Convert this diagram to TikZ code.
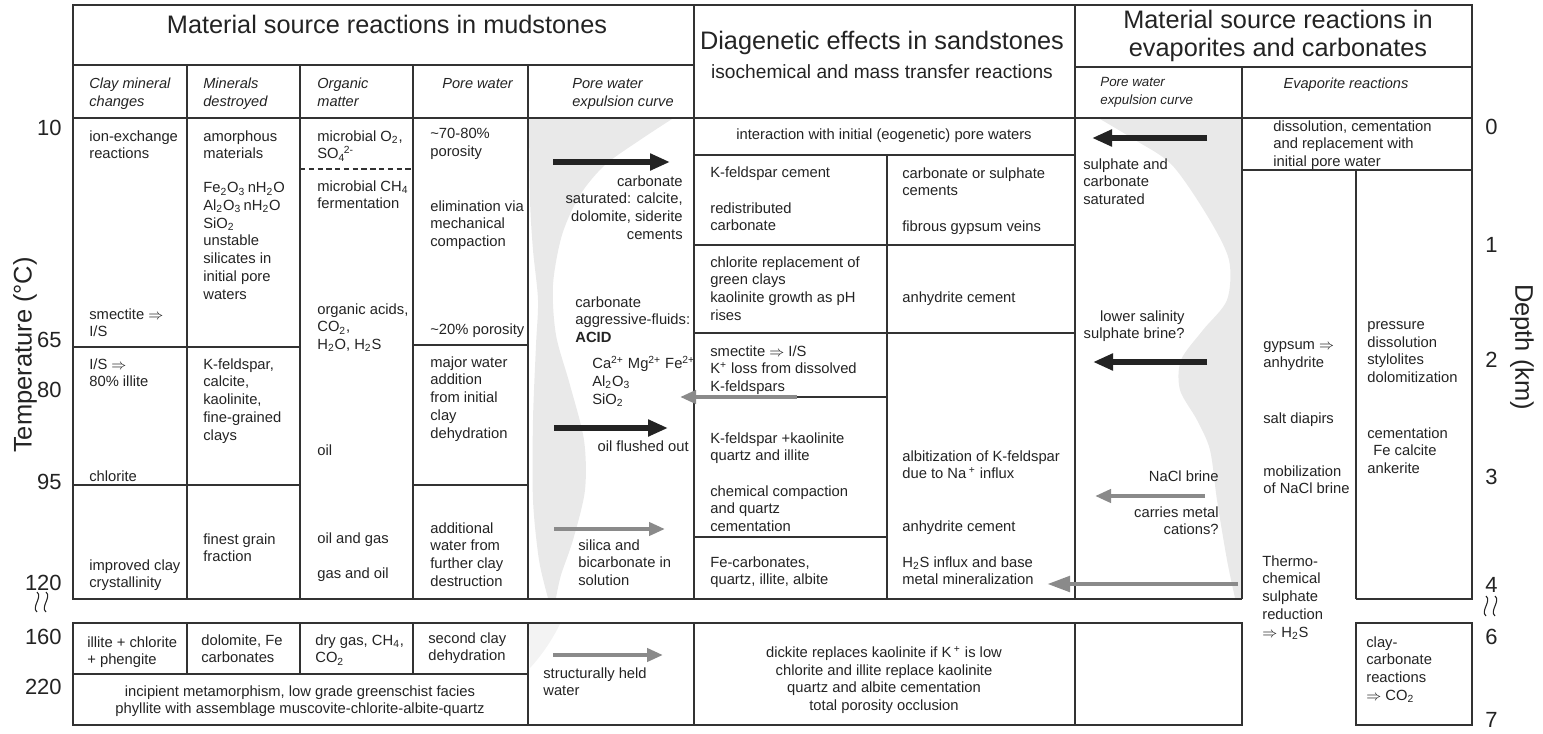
\documentclass[tikz,border=0pt]{standalone}
\usepackage{fontspec}
\setmainfont{Liberation Sans}
\usepackage{xcolor}
\usepackage{tikz}
\usetikzlibrary{arrows.meta}
\definecolor{ink}{RGB}{35,35,35}
\definecolor{rule}{RGB}{50,50,50}
\definecolor{shade}{RGB}{233,233,233}
\definecolor{paleshade}{RGB}{243,243,243}
\definecolor{greyarrow}{RGB}{138,138,138}
\newcommand{\bodyfont}{\fontsize{8.4}{10.1}\selectfont}
\newcommand{\headfont}{\fontsize{8.3}{10.1}\selectfont\itshape}
\newcommand{\titlefont}{\fontsize{14.4}{16}\selectfont}
\newcommand{\axisfont}{\fontsize{12.5}{14}\selectfont}
\newcommand{\chsub}[1]{\textsubscript{#1}}
\newcommand{\chsup}[1]{\textsuperscript{#1}}
\newcommand{\becomes}{\ensuremath{\Rightarrow}}

\begin{document}
\begin{tikzpicture}[x=0.02cm,y=-0.02cm,
  tabline/.style={draw=rule,line width=0.8pt},
  dashline/.style={draw=rule,line width=0.8pt,dash pattern=on 3pt off 2pt},
  txt/.style={anchor=north west,align=left,inner sep=0pt,font=\bodyfont,text=ink},
  rtxt/.style={txt,anchor=north east,align=right},
  ctxt/.style={txt,anchor=north,align=center},
  colhead/.style={txt,font=\headfont},
  bigtitle/.style={inner sep=0pt,align=center,font=\titlefont,text=ink},
  axisnum/.style={inner sep=0pt,font=\axisfont,text=ink},
  axistitle/.style={inner sep=0pt,font=\fontsize{14.5}{16}\selectfont,text=ink},
  curve/.style={fill=shade},
  darkarrow/.style={draw=ink,line width=3.4pt,-{Triangle[length=4mm,width=3.2mm]}},
  palearrow/.style={draw=greyarrow,line width=2.8pt,-{Triangle[length=3.2mm,width=2.6mm]}}
]
\useasboundingbox (0,0) rectangle (1543,734);

% expulsion curves
\fill[curve] plot[smooth] coordinates {(672,119) (640,140) (605,165) (580,195) (562,235) (553,285) (556,335) (570,385) (584,440) (585,490) (573,540) (561,575) (556,598)}
  -- plot[smooth] coordinates {(548,598) (539,560) (533,500) (533,420) (536,345) (538,300) (533,250) (530,200) (529,119)} -- cycle;
\fill[paleshade] (529,624) -- (560,624) .. controls (552,640) and (542,655) .. (530,668) -- cycle;
\fill[curve] plot[smooth] coordinates {(1100,119) (1135,140) (1172,165) (1208,217) (1229,260) (1227,300) (1203,330) (1181,360) (1180,390) (1197,420) (1210,450) (1217,500) (1227,560) (1235,598)}
  -- (1241,598) -- (1241,119) -- cycle;

% upper table
\draw[tabline] (1242,599) -- (73,599) -- (73,5) -- (1472,5) -- (1472,599) -- (1356,599);
\draw[tabline] (73,65) -- (694,65);
\draw[tabline] (1075,67) -- (1472,67);
\draw[tabline] (73,118) -- (1472,118);
\foreach \xc in {187,300,413,528}
  \draw[tabline] (\xc,65) -- (\xc,599);
\draw[tabline] (694,5) -- (694,599);
\draw[tabline] (1075,5) -- (1075,599);
\draw[tabline] (1242,67) -- (1242,599);
\draw[tabline] (1242,170) -- (1472,170);
\draw[tabline] (1356,170) -- (1356,599);
\draw[tabline] (73,347) -- (300,347);
\draw[tabline] (73,485) -- (300,485);
\draw[dashline] (300,169) -- (413,169);
\draw[tabline] (413,345) -- (528,345);
\draw[tabline] (413,485) -- (528,485);
\draw[tabline] (694,155) -- (1075,155);
\draw[tabline] (887,155) -- (887,599);
\foreach \yc in {245,333}
  \draw[tabline] (694,\yc) -- (1075,\yc);
\foreach \yc in {397,537}
  \draw[tabline] (694,\yc) -- (887,\yc);

% lower table
\draw[tabline] (73,623) rectangle (1242,725);
\draw[tabline] (1356,623) rectangle (1472,725);
\foreach \xc in {187,300,413}
  \draw[tabline] (\xc,623) -- (\xc,674);
\foreach \xc in {528,694,1075}
  \draw[tabline] (\xc,623) -- (\xc,725);
\draw[tabline] (73,674) -- (528,674);

% headings
\node[bigtitle] (mudTitle) at (387,24) {Material source reactions in mudstones};
\node[bigtitle] (sandTitle) at (882,43) {Diagenetic effects in sandstones};
\node[bigtitle,font=\fontsize{10.9}{12}\selectfont] (sandSub) at (882,72) {isochemical and mass transfer reactions};
\node[bigtitle,font=\fontsize{14.4}{16}\selectfont] (evapTitle) at (1278,36) {Material source reactions in\\evaporites and carbonates};
\node[colhead] (hClay) at (89,78) {Clay mineral\\changes};
\node[colhead] (hMin) at (203,78) {Minerals\\destroyed};
\node[colhead] (hOrg) at (317,78) {Organic\\matter};
\node[colhead] (hPore) at (442,78) {Pore water};
\node[colhead] (hCurve) at (572,78) {Pore water\\expulsion curve};
\node[colhead,font=\fontsize{7.6}{10}\selectfont\itshape] (hCurveE) at (1100,77) {Pore water\\expulsion curve};
\node[colhead,anchor=north] (hEvap) at (1346,78) {Evaporite reactions};

% axes
\node[axistitle,rotate=90] (tempAxis) at (25,355) {Temperature (°C)};
\node[axistitle,rotate=-90] (depthAxis) at (1522,347) {Depth (km)};
\foreach \lab/\yc in {10/128,65/340,80/390,95/482,120/583,160/637,220/687}
  \node[axisnum,anchor=east] (t\lab) at (62,\yc) {\lab};
\foreach \lab/\yc in {0/127,1/245,2/360,3/477,4/585,6/637,7/720}
  \node[axisnum,anchor=west] (d\lab) at (1485,\yc) {\lab};
\draw[ink,line width=0.6pt] (37,592) .. controls (43,597) and (31,607) .. (37,612);
\draw[ink,line width=0.6pt] (46,592) .. controls (52,597) and (40,607) .. (46,612);
\draw[ink,line width=0.6pt] (1486,596) .. controls (1492,601) and (1480,611) .. (1486,616);
\draw[ink,line width=0.6pt] (1495,596) .. controls (1501,601) and (1489,611) .. (1495,616);

% clay mineral changes
\node[txt] (clayA) at (89,130) {ion-exchange\\reactions};
\node[txt] (clayB) at (89,308) {smectite \becomes\\I/S};
\node[txt] (clayC) at (89,358) {I/S \becomes\\80\% illite};
\node[txt] (clayD) at (89,470) {chlorite};
\node[txt] (clayE) at (89,559) {improved clay\\crystallinity};

% minerals destroyed
\node[txt] (minA) at (203,130) {amorphous\\materials};
\node[txt] (minB) at (203,182) {Fe\chsub{2}O\chsub{3}\,nH\chsub{2}O\\Al\chsub{2}O\chsub{3}\,nH\chsub{2}O\\SiO\chsub{2}\\unstable\\silicates in\\initial pore\\waters};
\node[txt] (minC) at (203,358) {K-feldspar,\\calcite,\\kaolinite,\\fine-grained\\clays};
\node[txt] (minD) at (203,533) {finest grain\\fraction};

% organic matter
\node[txt] (orgA) at (317,130) {microbial O\chsub{2},\\SO\chsub{4}\kern-0.1em\chsup{2-}};
\node[txt] (orgB) at (317,180) {microbial CH\chsub{4}\\fermentation};
\node[txt] (orgC) at (317,303) {organic acids,\\CO\chsub{2},\\H\chsub{2}O, H\chsub{2}S};
\node[txt] (orgD) at (317,444) {oil};
\node[txt] (orgE) at (317,532) {oil and gas};
\node[txt] (orgF) at (317,567) {gas and oil};

% pore water
\node[txt] (poreA) at (430,128) {\textasciitilde 70-80\%\\porosity};
\node[txt] (poreB) at (430,200) {elimination via\\mechanical\\compaction};
\node[txt] (poreC) at (430,323) {\textasciitilde 20\% porosity};
\node[txt] (poreD) at (430,356) {major water\\addition\\from initial\\clay\\dehydration};
\node[txt] (poreE) at (430,522) {additional\\water from\\further clay\\destruction};

% mudstone expulsion curve
\node[rtxt] (curveA) at (683,175) {carbonate\\saturated: calcite,\\dolomite, siderite\\cements};
\node[txt] (curveB) at (575,296) {carbonate\\aggressive-fluids:\\\textbf{ACID}};
\node[txt] (curveC) at (592,356) {Ca\chsup{2+} Mg\chsup{2+} Fe\chsup{2+}\\Al\chsub{2}O\chsub{3}\\SiO\chsub{2}};
\node[rtxt] (curveD) at (689,440) {oil flushed out};
\node[txt] (curveE) at (578,539) {silica and\\bicarbonate in\\solution};

% sandstones
\node[txt,anchor=center] (sandTop) at (884,136) {interaction with initial (eogenetic) pore waters};
\node[txt] (sandA) at (710,166) {K-feldspar cement};
\node[txt] (sandB) at (710,202) {redistributed\\carbonate};
\node[txt] (sandC) at (710,256) {chlorite replacement of\\green clays\\kaolinite growth as pH\\rises};
\node[txt] (sandD) at (710,345) {smectite \becomes\ I/S\\K\chsup{+} loss from dissolved\\K-feldspars};
\node[txt] (sandE) at (710,432) {K-feldspar +kaolinite\\quartz and illite};
\node[txt] (sandF) at (710,485) {chemical compaction\\and quartz\\cementation};
\node[txt] (sandG) at (710,556) {Fe-carbonates,\\quartz, illite, albite};
\node[txt] (sandH) at (902,167) {carbonate or sulphate\\cements};
\node[txt] (sandI) at (902,220) {fibrous gypsum veins};
\node[txt] (sandJ) at (902,291) {anhydrite cement};
\node[txt] (sandK) at (902,450) {albitization of K-feldspar\\due to Na\,\chsup{+} influx};
\node[txt] (sandL) at (902,520) {anhydrite cement};
\node[txt] (sandM) at (902,556) {H\chsub{2}S influx and base\\metal mineralization};

% evaporites
\node[txt] (evapA) at (1083,158) {sulphate and\\carbonate\\saturated};
\node[rtxt] (evapB) at (1185,310) {lower salinity\\sulphate brine?};
\node[rtxt] (evapC) at (1219,470) {NaCl brine};
\node[rtxt] (evapD) at (1219,506) {carries metal\\cations?};
\node[txt] (evapE) at (1273,120) {dissolution, cementation\\and replacement with\\initial pore water};
\node[txt] (evapF) at (1263,341) {gypsum \becomes\\anhydrite};
\node[txt] (evapG) at (1263,412) {salt diapirs};
\node[txt] (evapH) at (1263,465) {mobilization\\of NaCl brine};
\node[txt] (evapI) at (1262,555) {Thermo-\\chemical\\sulphate\\reduction\\\becomes\ H\chsub{2}S};
\node[txt] (evapJ) at (1367,321) {pressure\\dissolution\\stylolites\\dolomitization};
\node[txt] (evapK) at (1367,427) {cementation\\\hspace{1.2mm}Fe calcite\\ankerite};

% lower rows
\node[txt] (lowA) at (87,636) {illite + chlorite\\+ phengite};
\node[txt] (lowB) at (201,634) {dolomite, Fe\\carbonates};
\node[txt] (lowC) at (315,634) {dry gas, CH\chsub{4},\\CO\chsub{2}};
\node[txt] (lowD) at (428,632) {second clay\\dehydration};
\node[ctxt] (lowE) at (300,685) {incipient metamorphism, low grade greenschist facies\\phyllite with assemblage muscovite-chlorite-albite-quartz};
\node[txt] (lowF) at (543,667) {structurally held\\water};
\node[ctxt] (lowG) at (884,646) {dickite replaces kaolinite if K\,\chsup{+} is low\\chlorite and illite replace kaolinite\\quartz and albite cementation\\total porosity occlusion};
\node[txt] (lowH) at (1366,636) {clay-\\carbonate\\reactions\\\becomes\ CO\chsub{2}};

% fluid arrows
\coordinate (mudOutA) at (553,162);  \coordinate (mudInA) at (670,162);
\coordinate (mudOutB) at (554,428);  \coordinate (mudInB) at (668,428);
\coordinate (mudOutC) at (554,529);  \coordinate (mudInC) at (665,529);
\coordinate (mudOutD) at (553,655);  \coordinate (mudInD) at (663,655);
\coordinate (sandOut) at (797,397);  \coordinate (sandIn) at (680,397);
\coordinate (evapOutA) at (1207,138); \coordinate (evapInA) at (1092,138);
\coordinate (evapOutB) at (1207,362); \coordinate (evapInB) at (1093,362);
\coordinate (evapOutC) at (1205,496); \coordinate (evapInC) at (1095,496);
\coordinate (evapOutD) at (1238,584); \coordinate (evapInD) at (1047,584);
\draw[darkarrow] (mudOutA) -- (mudInA);
\draw[darkarrow] (mudOutB) -- (mudInB);
\draw[palearrow] (mudOutC) -- (mudInC);
\draw[palearrow] (mudOutD) -- (mudInD);
\draw[palearrow] (sandOut) -- (sandIn);
\draw[darkarrow] (evapOutA) -- (evapInA);
\draw[darkarrow] (evapOutB) -- (evapInB);
\draw[palearrow] (evapOutC) -- (evapInC);
\draw[palearrow,-{Triangle[length=4.6mm,width=3mm]}] (evapOutD) -- (evapInD);
\end{tikzpicture}
\end{document}
